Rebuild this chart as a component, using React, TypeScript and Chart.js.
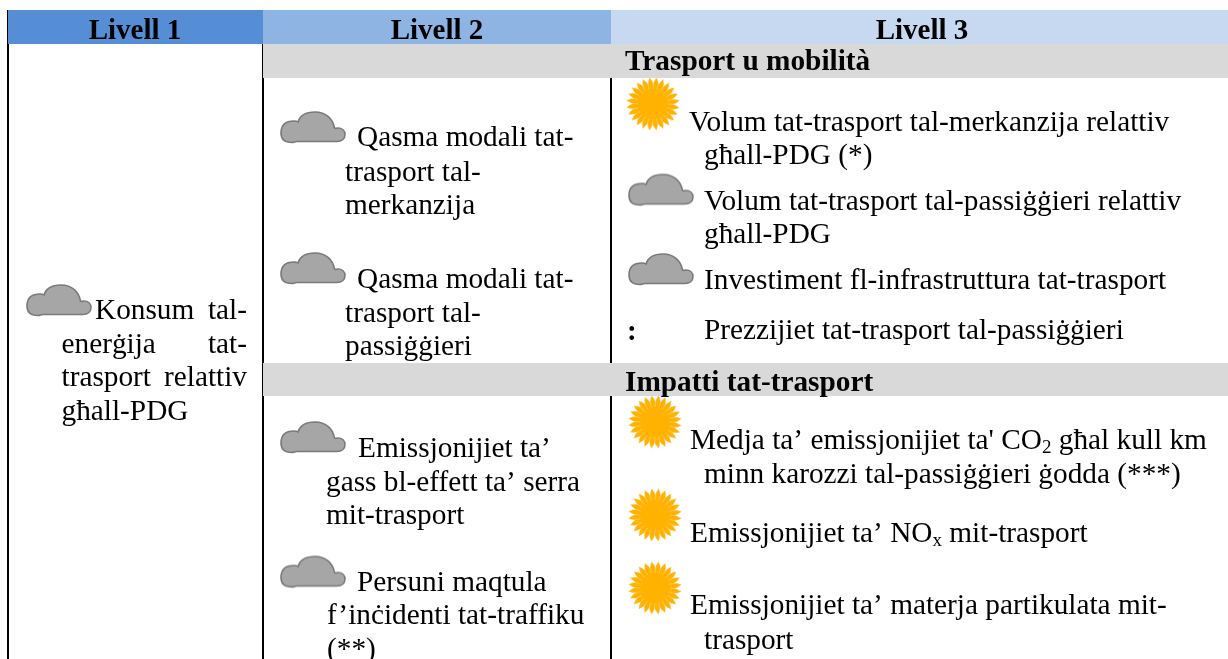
import React, { useEffect, useRef } from "react";
import { Chart, registerables } from "chart.js";

Chart.register(...registerables);

// ---- content ----
const columnHeaders = ["Livell 1", "Livell 2", "Livell 3"];
const sectionTitles = ["Trasport u mobilità", "Impatti tat-trasport"];
const level1Lines = ["Konsum tal-", "enerġija tat-", "trasport relattiv", "għall-PDG"];
const level2Lines = [
  "Qasma modali tat-", "trasport tal-", "merkanzija",
  "Qasma modali tat-", "trasport tal-", "passiġġieri",
  "Emissjonijiet ta’", "gass bl-effett ta’ serra", "mit-trasport",
  "Persuni maqtula", "f’inċidenti tat-traffiku", "(**)",
];
const level3Lines = [
  "Volum tat-trasport tal-merkanzija relattiv", "għall-PDG (*)",
  "Volum tat-trasport tal-passiġġieri relattiv", "għall-PDG",
  "Investiment fl-infrastruttura tat-trasport",
  "Prezzijiet tat-trasport tal-passiġġieri",
  "Medja ta’ emissjonijiet ta' CO₂ għal kull km", "minn karozzi tal-passiġġieri ġodda (***)",
  "Emissjonijiet ta’ NOₓ mit-trasport",
  "Emissjonijiet ta’ materja partikulata mit-", "trasport",
];
const noDataMark = ":";

// ---- layout, in axis units ----
const AXIS_W = 1228;
const AXIS_H = 659;
const columnEdges = [8, 263, 611, 1228];
const headerBand = [10, 44];
const sectionBands = [[44, 78], [363, 396]];
const headerColors = ["#558ED5", "#8EB4E3", "#C6D9F1"];
const bandColor = "#D9D9D9";
const headerCenters = [135, 437, 922];
const headerBaseline = 38.5;
const sectionX = 625;
const sectionBaselines = [70, 391];
const level1X = [95, 61.5, 61.5, 61.5];
const level1Y = [319, 353, 386, 420];
const level1Right = 247;
const level2X = [357, 345, 345, 357, 345, 345, 358, 326, 326, 357, 327, 327];
const level2Y = [146, 181, 214, 288, 322, 355, 457, 491, 524, 591, 624, 658];
const level3X = [689, 704, 704, 704, 704, 704, 690, 704, 690, 690, 704];
const level3Y = [131, 164, 210, 243, 289, 339, 449, 483, 542, 614, 649];
const markX = 627;
const markY = 340;
const cloudCentersX = [59, 313, 313, 313, 313, 661, 661];
const cloudCentersY = [300.5, 127.5, 268.5, 437.5, 572, 190, 269.5];
const sunCentersX = [653, 655, 655, 655];
const sunCentersY = [104, 422, 515, 588];

const FONT_SIZE = 29.3;
const HEADER_SIZE = 29;
const SECTION_SIZE = 29.3;
const FAMILY = '"Liberation Serif", "Times New Roman", serif';

function makeCloud(): HTMLCanvasElement {
  const c = document.createElement("canvas");
  c.width = 68;
  c.height = 35;
  const g = c.getContext("2d")!;
  g.translate(2, 2);
  g.beginPath();
  g.moveTo(11, 30.5);
  g.bezierCurveTo(3, 30.5, 0, 27, 0, 21);
  g.bezierCurveTo(0, 13, 5, 9, 13, 9);
  g.bezierCurveTo(14.5, 9, 16, 9.2, 17, 10);
  g.bezierCurveTo(19, 3, 26, 0, 34, 0);
  g.bezierCurveTo(45, 0, 52, 7, 53.5, 16);
  g.bezierCurveTo(54.5, 17, 55.5, 16, 57, 16);
  g.bezierCurveTo(61, 16, 64, 18.5, 64, 22.5);
  g.bezierCurveTo(64, 27, 60.5, 29.5, 56, 29.5);
  g.lineTo(16, 29.5);
  g.bezierCurveTo(14, 29.5, 13, 30.5, 11, 30.5);
  g.closePath();
  g.fillStyle = "#A6A6A6";
  g.fill();
  g.strokeStyle = "#7A7A7A";
  g.lineWidth = 1.6;
  g.stroke();
  return c;
}

function makeSun(): HTMLCanvasElement {
  const size = 56;
  const c = document.createElement("canvas");
  c.width = size;
  c.height = size;
  const g = c.getContext("2d")!;
  g.translate(size / 2, size / 2);
  const rays = 24;
  const inner = 15;
  const outer = 26.5;
  g.beginPath();
  for (let i = 0; i < rays; i++) {
    const a0 = (i / rays) * Math.PI * 2;
    const a1 = ((i + 0.5) / rays) * Math.PI * 2;
    const a2 = ((i + 1) / rays) * Math.PI * 2;
    const ctrlR = (inner + outer) / 2;
    if (i === 0) g.moveTo(Math.cos(a0) * inner, Math.sin(a0) * inner);
    g.quadraticCurveTo(
      Math.cos(a0 - 0.03) * ctrlR, Math.sin(a0 - 0.03) * ctrlR,
      Math.cos(a1) * outer, Math.sin(a1) * outer,
    );
    g.quadraticCurveTo(
      Math.cos(a1 + 0.22) * ctrlR, Math.sin(a1 + 0.22) * ctrlR,
      Math.cos(a2) * inner, Math.sin(a2) * inner,
    );
  }
  g.closePath();
  g.fillStyle = "#FFB300";
  g.fill();
  g.strokeStyle = "rgba(255,205,110,0.6)";
  g.lineWidth = 0.8;
  g.stroke();
  return c;
}

function drawRich(ctx: CanvasRenderingContext2D, text: string, x: number, y: number, size: number) {
  const parts = text.split(/([₂ₓ])/);
  let cx = x;
  for (const part of parts) {
    if (!part) continue;
    if (part === "₂" || part === "ₓ") {
      const sub = part === "₂" ? "2" : "x";
      ctx.font = `${size * 0.65}px ${FAMILY}`;
      ctx.fillText(sub, cx, y + 4);
      cx += ctx.measureText(sub).width;
      ctx.font = `${size}px ${FAMILY}`;
    } else {
      ctx.fillText(part, cx, y);
      cx += ctx.measureText(part).width;
    }
  }
}

const tablePlugin = {
  id: "tableText",
  afterDatasetsDraw(chart: any) {
    const { ctx, scales } = chart;
    const px = (v: number) => scales.x.getPixelForValue(v);
    const py = (v: number) => scales.y.getPixelForValue(v);
    ctx.save();
    ctx.fillStyle = "#000";
    ctx.textBaseline = "alphabetic";

    ctx.font = `bold ${HEADER_SIZE}px ${FAMILY}`;
    ctx.textAlign = "center";
    columnHeaders.forEach((t, i) => ctx.fillText(t, px(headerCenters[i]), py(headerBaseline)));
    ctx.textAlign = "left";
    ctx.font = `bold ${SECTION_SIZE}px ${FAMILY}`;
    sectionTitles.forEach((t, i) => ctx.fillText(t, px(sectionX), py(sectionBaselines[i])));
    ctx.font = `bold ${FONT_SIZE}px ${FAMILY}`;
    ctx.fillText(noDataMark, px(markX), py(markY));

    ctx.font = `${FONT_SIZE}px ${FAMILY}`;
    level1Lines.forEach((t, i) => {
      const words = t.split(" ");
      ctx.textAlign = "left";
      ctx.fillText(words[0], px(level1X[i]), py(level1Y[i]));
      if (words.length > 1) {
        ctx.textAlign = "right";
        ctx.fillText(words[1], px(level1Right), py(level1Y[i]));
      }
    });
    ctx.textAlign = "left";
    level2Lines.forEach((t, i) => ctx.fillText(t, px(level2X[i]), py(level2Y[i])));
    level3Lines.forEach((t, i) => drawRich(ctx, t, px(level3X[i]), py(level3Y[i]), FONT_SIZE));
    ctx.restore();
  },
};

function band(x0: number, x1: number, y0: number, y1: number, color: string) {
  return {
    data: [{ x: x0, y: y0 }, { x: x1, y: y0 }],
    showLine: true,
    borderWidth: 0,
    pointRadius: 0,
    backgroundColor: color,
    fill: { value: y1 },
  };
}

function rule(x: number, y0: number, y1: number) {
  return {
    data: [{ x, y: y0 }, { x, y: y1 }],
    showLine: true,
    borderColor: "#000",
    borderWidth: 2,
    pointRadius: 0,
    fill: false,
  };
}

export default function App() {
  const ref = useRef<HTMLCanvasElement>(null);
  useEffect(() => {
    document.body.style.margin = "0";
    const cloud = makeCloud();
    const sun = makeSun();
    const datasets: any[] = [
      ...headerColors.map((col, i) =>
        band(columnEdges[i], columnEdges[i + 1], headerBand[0], headerBand[1], col)),
      ...sectionBands.map(([a, b]) => band(columnEdges[1], columnEdges[3], a, b, bandColor)),
      rule(columnEdges[0], headerBand[0], AXIS_H),
      rule(columnEdges[1], headerBand[0], AXIS_H),
      rule(columnEdges[2], headerBand[0], sectionBands[0][0]),
      rule(columnEdges[2], sectionBands[0][1], sectionBands[1][0]),
      rule(columnEdges[2], sectionBands[1][1], AXIS_H),
      {
        data: cloudCentersX.map((x, i) => ({ x, y: cloudCentersY[i] })),
        pointStyle: cloud,
        pointRadius: 10,
        showLine: false,
      },
      {
        data: sunCentersX.map((x, i) => ({ x, y: sunCentersY[i] })),
        pointStyle: sun,
        pointRadius: 10,
        showLine: false,
      },
    ];
    const chart = new Chart(ref.current!, {
      type: "scatter",
      data: { datasets },
      options: {
        animation: false,
        responsive: false,
        layout: { padding: 0, autoPadding: false },
        plugins: { legend: { display: false }, tooltip: { enabled: false }, title: { display: false } },
        scales: {
          x: { type: "linear", min: 0, max: AXIS_W, display: false },
          y: { type: "linear", min: 0, max: AXIS_H, reverse: true, display: false },
        },
      },
      plugins: [tablePlugin],
    } as any);
    return () => chart.destroy();
  }, []);
  return (
    <div style={{ position: "absolute", left: 0, top: 0, width: AXIS_W, height: AXIS_H, background: "#fff", overflow: "hidden" }}>
      <canvas ref={ref} width={AXIS_W} height={AXIS_H} style={{ display: "block" }} />
    </div>
  );
}
